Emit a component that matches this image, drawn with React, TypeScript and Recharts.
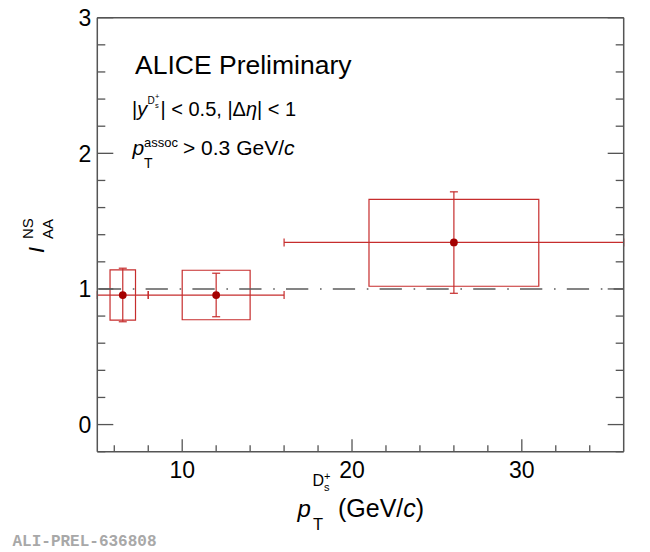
import React from 'react';
import {
  ComposedChart,
  Scatter,
  XAxis,
  YAxis,
  ErrorBar,
  ReferenceLine,
  ReferenceArea,
} from 'recharts';

// ---- data ----
const binLow = [5, 8, 16];
const binHigh = [8, 16, 36];
const ptCenter = [6.5, 12, 26];
const iaaValue = [0.955, 0.955, 1.343];
const statLow = [0.758, 0.795, 0.968];
const statHigh = [1.153, 1.116, 1.716];
const sysXLow = [5.75, 10, 21];
const sysXHigh = [7.25, 14, 31];
const sysLow = [0.77, 0.773, 1.02];
const sysHigh = [1.14, 1.138, 1.66];

const xTicks = [6, 8, 10, 12, 14, 16, 18, 20, 22, 24, 26, 28, 30, 32, 34];
const xMajor = [10, 20, 30];
const yTicks = [-0.2, 0, 0.2, 0.4, 0.6, 0.8, 1, 1.2, 1.4, 1.6, 1.8, 2, 2.2, 2.4, 2.6, 2.8, 3];
const yMajor = [0, 1, 2, 3];

const points = ptCenter.map((x, i) => ({
  x,
  y: iaaValue[i],
  ex: [x - binLow[i], binHigh[i] - x],
  ey: [iaaValue[i] - statLow[i], statHigh[i] - iaaValue[i]],
}));

const AXIS = '#555555';
const RED = '#c62d2d';
const MARK = '#a50000';
const FONT = '"Liberation Sans", Arial, Helvetica, sans-serif';

const isMajor = (v: number, majors: number[]) => majors.some((m) => Math.abs(m - v) < 1e-6);

const BottomTick = (props: any) => {
  const { x, y, payload } = props;
  const major = isMajor(payload.value, xMajor);
  return (
    <g>
      <line x1={x} x2={x} y1={y} y2={y - (major ? 12.5 : 6.5)} stroke={AXIS} strokeWidth={1.3} />
      {major && (
        <text x={x} y={y + 26.5} textAnchor="middle" fontSize={23} fontFamily={FONT} fill="#000">
          {payload.value}
        </text>
      )}
    </g>
  );
};

const TopTick = (props: any) => {
  const { x, y, payload } = props;
  const major = isMajor(payload.value, xMajor);
  return <line x1={x} x2={x} y1={y} y2={y + (major ? 12.5 : 6.5)} stroke={AXIS} strokeWidth={1.3} />;
};

const LeftTick = (props: any) => {
  const { x, y, payload } = props;
  const major = isMajor(payload.value, yMajor);
  return (
    <g>
      <line x1={x} x2={x + (major ? 16 : 8)} y1={y} y2={y} stroke={AXIS} strokeWidth={1.3} />
      {major && (
        <text x={x - 6} y={y + 8.3} textAnchor="end" fontSize={23} fontFamily={FONT} fill="#000">
          {Math.round(payload.value)}
        </text>
      )}
    </g>
  );
};

const RightTick = (props: any) => {
  const { x, y, payload } = props;
  const major = isMajor(payload.value, yMajor);
  return <line x1={x} x2={x - (major ? 16 : 8)} y1={y} y2={y} stroke={AXIS} strokeWidth={1.3} />;
};

const Marker = (props: any) => <circle cx={props.cx} cy={props.cy} r={3.9} fill={MARK} />;

export default function App() {
  return (
    <div style={{ position: 'absolute', left: 0, top: 0, width: 650, height: 552, background: '#fff' }}>
      <ComposedChart
        width={650}
        height={552}
        margin={{ top: 7.7, right: 6.3, bottom: 40.3, left: 37.3 }}
      >
        <XAxis
          xAxisId="b"
          type="number"
          dataKey="x"
          domain={[5, 36]}
          allowDataOverflow
          ticks={xTicks}
          interval={0}
          tickLine={false}
          tickSize={0}
          tickMargin={0}
          height={60}
          axisLine={{ stroke: AXIS, strokeWidth: 1.5 }}
          tick={<BottomTick />}
        />
        <XAxis
          xAxisId="t"
          orientation="top"
          type="number"
          domain={[5, 36]}
          allowDataOverflow
          ticks={xTicks}
          interval={0}
          tickLine={false}
          tickSize={0}
          tickMargin={0}
          height={10}
          axisLine={{ stroke: AXIS, strokeWidth: 1.5 }}
          tick={<TopTick />}
        />
        <YAxis
          yAxisId="l"
          type="number"
          dataKey="y"
          domain={[-0.2, 3]}
          allowDataOverflow
          ticks={yTicks}
          interval={0}
          tickLine={false}
          tickSize={0}
          tickMargin={0}
          width={60}
          axisLine={{ stroke: AXIS, strokeWidth: 1.5 }}
          tick={<LeftTick />}
        />
        <YAxis
          yAxisId="r"
          orientation="right"
          type="number"
          domain={[-0.2, 3]}
          allowDataOverflow
          ticks={yTicks}
          interval={0}
          tickLine={false}
          tickSize={0}
          tickMargin={0}
          width={20}
          axisLine={{ stroke: AXIS, strokeWidth: 1.5 }}
          tick={<RightTick />}
        />
        <ReferenceLine
          xAxisId="b"
          yAxisId="l"
          y={1}
          stroke="#5c5c5c"
          strokeWidth={1.6}
          strokeDasharray="22.3 11.7 1.6 11.2"
          strokeDashoffset={-1.5}
        />
        {sysXLow.map((x1, i) => (
          <ReferenceArea
            key={i}
            xAxisId="b"
            yAxisId="l"
            x1={x1}
            x2={sysXHigh[i]}
            y1={sysLow[i]}
            y2={sysHigh[i]}
            fill="none"
            fillOpacity={0}
            stroke={RED}
            strokeWidth={1.2}
            ifOverflow="visible"
          />
        ))}
        <Scatter
          xAxisId="b"
          yAxisId="l"
          data={points}
          dataKey="y"
          isAnimationActive={false}
          shape={<Marker />}
        >
          <ErrorBar dataKey="ex" direction="x" width={4} stroke={RED} strokeWidth={1.2} isAnimationActive={false} />
          <ErrorBar dataKey="ey" direction="y" width={4} stroke={RED} strokeWidth={1.2} isAnimationActive={false} />
        </Scatter>
      </ComposedChart>

      <svg
        width={650}
        height={552}
        style={{ position: 'absolute', left: 0, top: 0, pointerEvents: 'none' }}
        fontFamily={FONT}
      >
        {/* header block */}
        <text x={135} y={73.5} fontSize={26.5} fill="#000">ALICE Preliminary</text>

        <text x={132} y={116} fontSize={20} fill="#000">
          |<tspan fontStyle="italic">y</tspan>
        </text>
        <text x={147.5} y={104} fontSize={10} fill="#000">D</text>
        <text x={155} y={107.5} fontSize={7.5} fill="#000">s</text>
        <text x={155} y={99} fontSize={7.5} fill="#000">+</text>
        <text x={160.5} y={116} fontSize={20} fill="#000">
          | &lt; 0.5, |Δ<tspan fontStyle="italic">η</tspan>| &lt; 1
        </text>

        <text x={132.5} y={154.5} fontSize={21} fontStyle="italic" fill="#000">p</text>
        <text x={144} y={146.5} fontSize={13} fill="#000">assoc</text>
        <text x={144} y={167.5} fontSize={14} fill="#000">T</text>
        <text x={183} y={154.5} fontSize={21} fill="#000">
          &gt; 0.3 GeV/<tspan fontStyle="italic">c</tspan>
        </text>

        {/* x axis title */}
        <text x={297.5} y={517} fontSize={24} fontStyle="italic" fill="#000">p</text>
        <text x={312.5} y={486} fontSize={16} fill="#000">D</text>
        <text x={324} y={491} fontSize={11} fill="#000">s</text>
        <text x={324} y={480} fontSize={11} fill="#000">+</text>
        <text x={313} y={529.5} fontSize={16.5} fill="#000">T</text>
        <text x={338} y={517} fontSize={25} fill="#000">
          (GeV/<tspan fontStyle="italic">c</tspan>)
        </text>

        {/* y axis title */}
        <g transform="translate(44, 253) rotate(-90)">
          <text x={0} y={0} fontSize={22} fontStyle="italic" fill="#000">I</text>
          <text x={14} y={-11} fontSize={15} fill="#000">NS</text>
          <text x={14} y={9} fontSize={15} fill="#000">AA</text>
        </g>

        {/* watermark */}
        <text
          x={12.5}
          y={546}
          fontSize={16}
          fontWeight="bold"
          fontFamily='"Liberation Mono", "DejaVu Sans Mono", monospace'
          fill="#a8a8a8"
        >
          ALI-PREL-636808
        </text>
      </svg>
    </div>
  );
}
